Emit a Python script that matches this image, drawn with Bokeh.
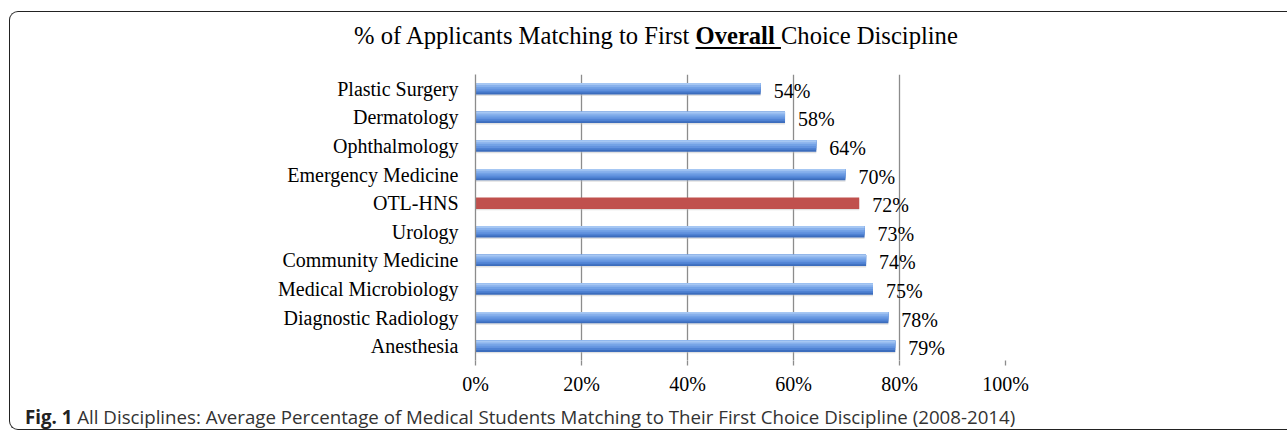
from bokeh.plotting import figure
from bokeh.models import ColumnDataSource, FactorRange, FixedTicker, Div
from bokeh.layouts import column
from bokeh.transform import dodge
from bokeh.core.properties import value
from bokeh.embed import file_html
from bokeh.resources import INLINE

# ---- data ----
categories = ["Plastic Surgery", "Dermatology", "Ophthalmology", "Emergency Medicine",
              "OTL-HNS", "Urology", "Community Medicine", "Medical Microbiology",
              "Diagnostic Radiology", "Anesthesia"]
values = [53.8, 58.4, 64.3, 69.8, 72.4, 73.4, 73.7, 75.0, 77.9, 79.2]
highlight = "OTL-HNS"
tick_values = [0, 20, 40, 60, 80, 100]
tick_labels = ["0%", "20%", "40%", "60%", "80%", "100%"]

title_pre = "% of Applicants Matching to First"
title_bold = "Overall"
title_post = "Choice Discipline"
caption_bold = "Fig. 1"
caption_text = ("All Disciplines: Average Percentage of Medical Students Matching to Their "
                "First Choice Discipline (2008-2014)")

SERIF = "Liberation Serif"
SANS = "Open Sans"

labels = ["{:.0f}%".format(v) for v in values]
blue_idx = [i for i, c in enumerate(categories) if c != highlight]
red_idx = [i for i, c in enumerate(categories) if c == highlight]
src_all = ColumnDataSource(dict(cat=categories, val=values, lab=labels))
src_blue = ColumnDataSource(dict(cat=[categories[i] for i in blue_idx],
                                 val=[values[i] for i in blue_idx]))
src_red = ColumnDataSource(dict(cat=[categories[i] for i in red_idx],
                                val=[values[i] for i in red_idx]))

W = 1277
p = figure(width=W, height=338, output_backend="svg", toolbar_location=None,
           y_range=FactorRange(factors=list(reversed(categories))),
           x_range=(0, 100),
           min_border_left=465, min_border_right=282,
           min_border_top=12, min_border_bottom=40)
p.outline_line_color = None
p.background_fill_color = "white"
p.border_fill_color = "white"

# grid
p.ygrid.grid_line_color = None
p.xgrid.grid_line_color = "#8c8c8c"
p.xgrid.grid_line_width = 1.3
p.xgrid.ticker = FixedTicker(ticks=tick_values)

# x axis
p.xaxis.ticker = FixedTicker(ticks=tick_values)
p.xaxis.major_label_overrides = {t: l for t, l in zip(tick_values, tick_labels)}
p.xaxis.axis_line_color = None
p.xaxis.major_tick_line_color = "#8c8c8c"
p.xaxis.major_tick_line_width = 1.3
p.xaxis.major_tick_in = 0
p.xaxis.major_tick_out = 5
p.xaxis.minor_tick_line_color = None
p.xaxis.major_label_standoff = 7
p.xaxis.major_label_text_font = SERIF
p.xaxis.major_label_text_font_size = "20px"
p.xaxis.major_label_text_color = "black"

# y axis
p.yaxis.axis_line_color = "#8c8c8c"
p.yaxis.axis_line_width = 1.3
p.yaxis.major_tick_line_color = None
p.yaxis.minor_tick_line_color = None
p.yaxis.major_tick_out = 0
p.yaxis.major_tick_in = 0
p.yaxis.major_label_standoff = 17
p.yaxis.major_label_text_font = SERIF
p.yaxis.major_label_text_font_size = "20px"
p.yaxis.major_label_text_color = "black"

BH = 0.4
# soft shadow
p.hbar(y=dodge("cat", -0.05, range=p.y_range), left=0, right="val", height=BH,
       source=src_all, fill_color="#bdbdbd", fill_alpha=0.45, line_color=None)

# blue gradient bars: nested layers, dark (full) -> light (top strip)
strip_cols = ["#3c6dbd", "#4f82d3", "#6393df", "#73a2e6", "#88b1ec", "#a6c7f3"]
n = len(strip_cols)
sh = BH / n
for k, col in enumerate(strip_cols):
    hk = BH - k * sh
    p.hbar(y=dodge("cat", k * sh / 2, range=p.y_range), left=0, right="val", height=hk,
           source=src_blue, fill_color=col, line_color=None)

# highlight bar
p.hbar(y="cat", left=0, right="val", height=BH, source=src_red,
       fill_color="#c0504d", line_color=None)

# data labels
p.text(x="val", y="cat", text="lab", source=src_all, x_offset=13, y_offset=2,
       text_align="left", text_baseline="middle",
       text_font=value(SERIF), text_font_size="20px", text_color="black")

# title & caption as HTML
title_html = (
    '<div style="margin-left:344px;margin-top:10px;white-space:nowrap;line-height:28px;'
    "font-family:'Liberation Serif';font-size:24.6px;color:#000\">"
    + title_pre + ' <span style="font-weight:bold;text-decoration:underline;'
    'text-decoration-thickness:2px;text-underline-offset:3px">' + title_bold
    + ' </span>' + title_post + '</div>')
caption_html = (
    '<div style="margin-left:15px;margin-top:5px;white-space:nowrap;line-height:24px;'
    "font-family:'Open Sans';font-size:18.7px;color:#333\">"
    '<span style="font-weight:bold;color:#222">' + caption_bold + '</span> '
    + caption_text + '</div>')

title_div = Div(text=title_html, width=W, height=50, margin=(0, 0, 0, 0))
caption_div = Div(text=caption_html, width=W, height=29, margin=(0, 0, 0, 0))

layout = column(title_div, p, caption_div, spacing=0,
                styles={"border-top": "1.5px solid #222",
                        "border-left": "1.5px solid #222",
                        "border-bottom": "1.5px solid #222",
                        "border-radius": "9px 0 0 9px",
                        "margin-left": "9px", "margin-top": "11px"})

open("out.html", "w").write(file_html(layout, INLINE))
